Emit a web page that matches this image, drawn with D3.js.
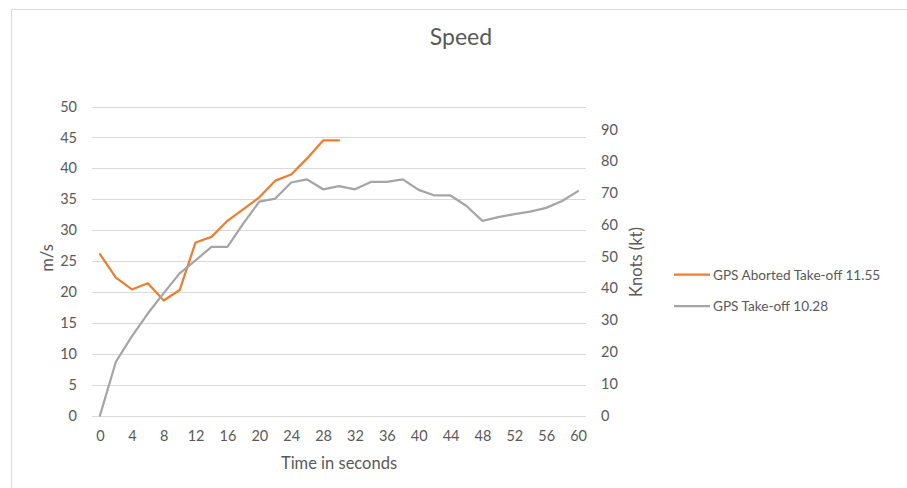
<!DOCTYPE html>
<html><head><meta charset="utf-8">
<script src="https://cdn.jsdelivr.net/npm/d3@7"></script>
<style>
body{margin:0;background:#fff;}
text{font-family:Lato, "Open Sans", sans-serif;fill:#595959;}
</style></head>
<body>
<svg id="c" width="907" height="488"></svg>
<script>
const times = [0,2,4,6,8,10,12,14,16,18,20,22,24,26,28,30,32,34,36,38,40,42,44,46,48,50,52,54,56,58,60];
const abortedSeries = [26.1,22.3,20.4,21.4,18.6,20.3,28.0,28.9,31.5,33.4,35.3,38.0,39.0,41.6,44.5,44.5];
const takeoffSeries = [0,8.7,12.8,16.5,19.8,23.0,25.1,27.3,27.3,31.1,34.6,35.1,37.7,38.2,36.6,37.1,36.6,37.8,37.8,38.2,36.5,35.6,35.6,33.9,31.5,32.1,32.6,33.0,33.6,34.7,36.3];
const leftTicks = [0,5,10,15,20,25,30,35,40,45,50];
const rightTicks = [0,10,20,30,40,50,60,70,80,90];
const xTickLabels = [0,4,8,12,16,20,24,28,32,36,40,44,48,52,56,60];
const seriesNames = ["GPS Aborted Take-off 11.55","GPS Take-off 10.28"];
const seriesColors = ["#ED7D31","#A5A5A5"];

const svg = d3.select("#c");
const pLeft = 92, pRight = 586, pTop = 106.5, pBottom = 415.5;
const tickFont = "14.5px";

// chart border
svg.append("rect").attr("x",11.5).attr("y",9.5).attr("width",1000).attr("height",1000)
  .attr("fill","none").attr("stroke","#D9D9D9").attr("stroke-width",1);

const x = d3.scalePoint().domain(times).range([pLeft,pRight]).padding(0.5);
const y = d3.scaleLinear().domain([0,50]).range([pBottom,pTop]);
const yk = d3.scaleLinear().domain([0,50*1.943844]).range([pBottom,pTop]);

// gridlines
svg.append("g").selectAll("line").data(leftTicks).join("line")
  .attr("x1",pLeft).attr("x2",pRight)
  .attr("y1",d=>Math.round(y(d))+0.5).attr("y2",d=>Math.round(y(d))+0.5)
  .attr("stroke","#D9D9D9").attr("stroke-width",1);

// left axis
const ga = svg.append("g").attr("transform",`translate(${pLeft},0)`)
  .call(d3.axisLeft(y).tickValues(leftTicks).tickSize(0).tickPadding(15));
ga.select(".domain").remove();
ga.selectAll("text").style("font-size",tickFont).attr("fill","#595959");

// right axis
const gr = svg.append("g").attr("transform",`translate(${pRight},0)`)
  .call(d3.axisRight(yk).tickValues(rightTicks).tickSize(0).tickPadding(15));
gr.select(".domain").remove();
gr.selectAll("text").style("font-size",tickFont).attr("fill","#595959");

// x axis
const gx = svg.append("g").attr("transform",`translate(0,${pBottom})`)
  .call(d3.axisBottom(x).tickValues(xTickLabels).tickSize(0).tickPadding(15));
gx.select(".domain").remove();
gx.selectAll("text").style("font-size",tickFont).attr("fill","#595959");

// lines
const line = d3.line().x((d,i)=>x(times[i])).y(d=>y(d));
[abortedSeries, takeoffSeries].forEach((s,i)=>{
  svg.append("path").datum(s).attr("d",line).attr("fill","none")
    .attr("stroke",seriesColors[i]).attr("stroke-width",2.25)
    .attr("stroke-linejoin","round").attr("stroke-linecap","round");
});

// title
svg.append("text").attr("x",461).attr("y",45).attr("text-anchor","middle")
  .style("font-size","23px").text("Speed");

// axis titles
svg.append("text").attr("x",339).attr("y",468.5).attr("text-anchor","middle")
  .style("font-size","16.5px").text("Time in seconds");
svg.append("text").attr("transform","translate(52.5,258) rotate(-90)").attr("text-anchor","middle")
  .style("font-size","16.5px").text("m/s");
svg.append("text").attr("transform","translate(641.5,262) rotate(-90)").attr("text-anchor","middle")
  .style("font-size","16.5px").text("Knots (kt)");

// legend
seriesNames.forEach((n,i)=>{
  const ly = 274.5 + i*31.5;
  svg.append("line").attr("x1",674).attr("x2",710).attr("y1",ly).attr("y2",ly)
    .attr("stroke",seriesColors[i]).attr("stroke-width",2.25);
  svg.append("text").attr("x",713).attr("y",ly+5).style("font-size","13.6px").text(n);
});
</script>
</body></html>
